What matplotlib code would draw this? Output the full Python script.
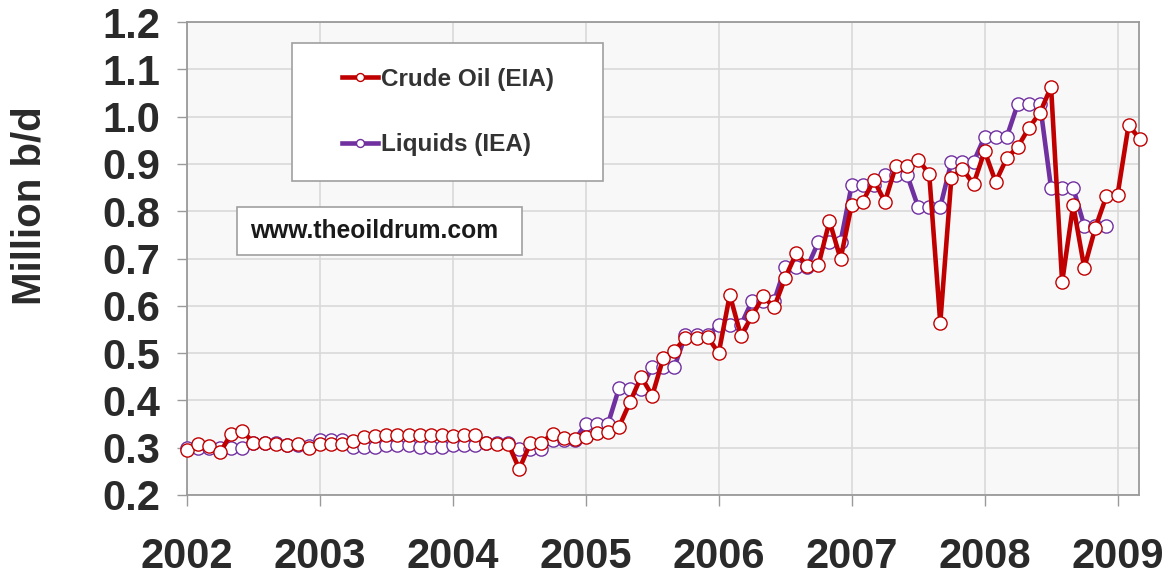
import numpy as np
import matplotlib
matplotlib.use("Agg")
import matplotlib.pyplot as plt
from matplotlib.patches import Rectangle

# ---- data (monthly, starting Jan 2002) ----
start_year = 2002
crude_oil_eia = [
    0.296, 0.308, 0.304, 0.290, 0.330, 0.336, 0.310, 0.310, 0.308, 0.305, 0.308, 0.300,   # 2002
    0.308, 0.308, 0.308, 0.315, 0.322, 0.325, 0.326, 0.326, 0.326, 0.326, 0.326, 0.326,   # 2003
    0.325, 0.326, 0.326, 0.310, 0.308, 0.308, 0.255, 0.310, 0.310, 0.330, 0.320, 0.318,   # 2004
    0.322, 0.331, 0.333, 0.344, 0.397, 0.450, 0.410, 0.490, 0.505, 0.532, 0.532, 0.534,   # 2005
    0.500, 0.623, 0.537, 0.578, 0.620, 0.597, 0.659, 0.711, 0.684, 0.686, 0.779, 0.699,   # 2006
    0.813, 0.820, 0.866, 0.820, 0.896, 0.895, 0.909, 0.879, 0.564, 0.870, 0.890, 0.857,   # 2007
    0.927, 0.862, 0.912, 0.936, 0.976, 1.008, 1.063, 0.650, 0.813, 0.680, 0.765, 0.832,   # 2008
    0.834, 0.982, 0.953,                                                                  # 2009
]
liquids_iea = [
    0.300, 0.300, 0.300, 0.300, 0.300, 0.300, 0.310, 0.310, 0.310, 0.305, 0.305, 0.303,   # 2002
    0.316, 0.316, 0.316, 0.302, 0.302, 0.302, 0.306, 0.306, 0.306, 0.302, 0.302, 0.302,   # 2003
    0.306, 0.306, 0.306, 0.310, 0.310, 0.310, 0.298, 0.298, 0.298, 0.316, 0.316, 0.316,   # 2004
    0.350, 0.350, 0.350, 0.426, 0.424, 0.424, 0.471, 0.471, 0.471, 0.538, 0.538, 0.538,   # 2005
    0.559, 0.559, 0.559, 0.610, 0.610, 0.610, 0.682, 0.682, 0.682, 0.735, 0.735, 0.735,   # 2006
    0.855, 0.855, 0.855, 0.877, 0.877, 0.877, 0.809, 0.809, 0.809, 0.904, 0.904, 0.904,   # 2007
    0.957, 0.957, 0.957, 1.027, 1.027, 1.027, 0.849, 0.849, 0.849, 0.769, 0.769, 0.769,   # 2008
]
year_ticks = [2002, 2003, 2004, 2005, 2006, 2007, 2008, 2009]
y_ticks = [0.2, 0.3, 0.4, 0.5, 0.6, 0.7, 0.8, 0.9, 1.0, 1.1, 1.2]
series_labels = ["Crude Oil (EIA)", "Liquids (IEA)"]
ylabel = "Million b/d"
watermark = "www.theoildrum.com"

x_crude = start_year + np.arange(len(crude_oil_eia)) / 12.0
x_liq = start_year + np.arange(len(liquids_iea)) / 12.0

# ---- style ----
W, H = 1167, 580
plt.rcParams['font.family'] = ['Liberation Sans', 'DejaVu Sans']
fig = plt.figure(figsize=(W / 100, H / 100), dpi=100)
fig.patch.set_facecolor('white')

L, R, B, T = 187, 1139, 495, 22
ax = fig.add_axes([L / W, (H - B) / H, (R - L) / W, (B - T) / H])
ax.set_facecolor('#f8f8f8')

red = '#c00000'
purple = '#7030a0'

ax.plot(x_liq, liquids_iea, color=purple, lw=3.3, marker='o', ms=9.5,
        mfc='white', mec=purple, mew=1.0, zorder=3, clip_on=False,
        label=series_labels[1])
ax.plot(x_crude, crude_oil_eia, color=red, lw=3.3, marker='o', ms=9.5,
        mfc='white', mec=red, mew=1.0, zorder=4, clip_on=False,
        label=series_labels[0])

ax.set_xlim(2002, 2002 + 86.0 / 12 - 0.005)
ax.set_ylim(0.2, 1.2)
ax.set_xticks(year_ticks)
ax.set_xticklabels([str(y) for y in year_ticks])
ax.set_yticks(y_ticks)
ax.set_yticklabels([f"{v:.1f}" for v in y_ticks])

ax.grid(True, color='#d9d9d9', lw=1.2, zorder=0)
ax.set_axisbelow(True)
for s in ax.spines.values():
    s.set_color('#9a9a9a')
    s.set_linewidth(1.3)

ax.tick_params(axis='x', direction='out', length=8, width=1.0, color='#9a9a9a',
               labelsize=30, labelcolor='#2a2a2a', pad=22)
ax.tick_params(axis='y', direction='out', length=7, width=1.0, color='#9a9a9a',
               labelsize=30, labelcolor='#2a2a2a', pad=12)
for lab in ax.get_xticklabels() + ax.get_yticklabels():
    lab.set_fontweight('bold')

fig.text(30 / W, 1 - 206 / H, ylabel, rotation=90, fontsize=29,
         fontweight='bold', color='#2a2a2a', ha='center', va='center')

# legend box
def px2fig(x, y):
    return x / W, 1 - y / H

lx0, ly0, lx1, ly1 = 292, 43, 603, 181
fig.patches.append(Rectangle(px2fig(lx0, ly1), (lx1 - lx0) / W, (ly1 - ly0) / H,
                             transform=fig.transFigure, facecolor='white',
                             edgecolor='#a0a0a0', lw=1.2, zorder=5))
h, l = ax.get_legend_handles_labels()
order = [1, 0]
leg = fig.legend([h[i] for i in order], [l[i] for i in order],
                 loc='center left', bbox_to_anchor=px2fig(320, 112),
                 frameon=False, prop={'family': 'Liberation Sans', 'weight': 'bold', 'size': 17.5},
                 handlelength=1.5, handletextpad=0.1, labelspacing=1.75,
                 markerscale=0.6, labelcolor='#333333')
leg.set_zorder(6)

# watermark box
wx0, wy0, wx1, wy1 = 237, 207, 522, 255
fig.patches.append(Rectangle(px2fig(wx0, wy1), (wx1 - wx0) / W, (wy1 - wy0) / H,
                             transform=fig.transFigure, facecolor='white',
                             edgecolor='#a0a0a0', lw=1.2, zorder=5))
fig.text(*px2fig(250, 231), watermark, fontsize=17.7, fontweight='bold',
         color='#1a1a1a', ha='left', va='center', zorder=6)

fig.savefig('out.png', dpi=100)
